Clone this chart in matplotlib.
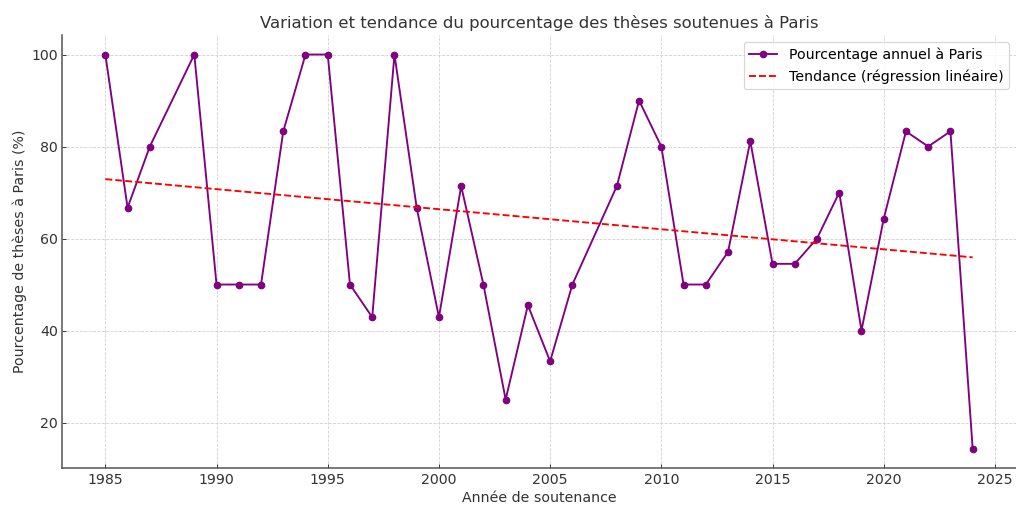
import matplotlib
matplotlib.use("Agg")
import matplotlib.pyplot as plt
import numpy as np

# Years of defence (1988 and 2007 absent)
years = [1985, 1986, 1987, 1989, 1990, 1991, 1992, 1993, 1994, 1995,
         1996, 1997, 1998, 1999, 2000, 2001, 2002, 2003, 2004, 2005,
         2006, 2008, 2009, 2010, 2011, 2012, 2013, 2014, 2015, 2016,
         2017, 2018, 2019, 2020, 2021, 2022, 2023, 2024]
# Share of theses defended in Paris (%)
pct_paris = [100.0, 66.7, 80.0, 100.0, 50.0, 50.0, 50.0, 83.3, 100.0, 100.0,
             50.0, 42.9, 100.0, 66.7, 42.9, 71.4, 50.0, 25.0, 45.5, 33.3,
             50.0, 71.4, 90.0, 80.0, 50.0, 50.0, 57.1, 81.2, 54.5, 54.5,
             60.0, 70.0, 40.0, 64.3, 83.3, 80.0, 83.3, 14.3]

x = np.array(years, dtype=float)
y = np.array(pct_paris, dtype=float)
slope, intercept = np.polyfit(x, y, 1)
trend = slope * x + intercept

fig, ax = plt.subplots(figsize=(12, 5.99), dpi=84.67)
fig.subplots_adjust(left=0.061, right=1.0, top=0.931, bottom=0.076)

ax.plot(x, y, marker="o", color="purple", linewidth=1.6, markersize=5.5,
        label="Pourcentage annuel à Paris")
ax.plot(x, trend, linestyle="--", color="red", linewidth=1.6,
        label="Tendance (régression linéaire)")

ax.set_title("Variation et tendance du pourcentage des thèses soutenues à Paris",
             fontsize=14, color="#333333")
ax.set_xlabel("Année de soutenance", fontsize=12, color="#333333")
ax.set_ylabel("Pourcentage de thèses à Paris (%)", fontsize=12, color="#333333")

ax.grid(True, linestyle="--", color="#d0d0d0", linewidth=0.7)
ax.set_axisbelow(True)
for side in ("top", "right"):
    ax.spines[side].set_visible(False)
for side in ("left", "bottom"):
    ax.spines[side].set_color("#555555")
    ax.spines[side].set_linewidth(1.3)
ax.tick_params(direction="in", labelsize=12, colors="#333333")

ax.legend(loc="upper right", fontsize=12, edgecolor="#cccccc")
plt.savefig("out.png")
